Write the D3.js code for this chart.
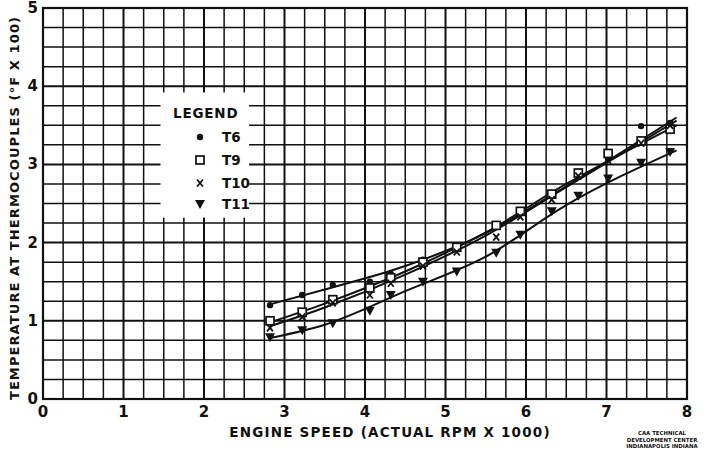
<!DOCTYPE html>
<html><head><meta charset="utf-8">
<script src="https://cdn.jsdelivr.net/npm/d3@7/dist/d3.min.js"></script>
<style>
html,body{margin:0;padding:0;background:#fff;}
svg text{font-family:"DejaVu Sans",sans-serif;font-weight:bold;fill:#111;}
</style></head>
<body>
<svg id="c" width="704" height="456"></svg>
<script>
// ---- data ----
const speeds = [2.82, 3.22, 3.60, 4.06, 4.32, 4.72, 5.14, 5.63, 5.93, 6.32, 6.65, 7.02, 7.43, 7.79];
const t6  = [1.20, 1.33, 1.46, 1.50, 1.60, 1.78, 1.95, 2.22, 2.40, 2.60, 2.88, 3.07, 3.49, 3.53];
const t9  = [1.00, 1.11, 1.27, 1.42, 1.55, 1.75, 1.94, 2.22, 2.40, 2.62, 2.89, 3.14, 3.30, 3.45];
const t10 = [0.91, 1.05, 1.23, 1.33, 1.48, 1.70, 1.88, 2.07, 2.33, 2.55, 2.85, 3.05, 3.27, 3.50];
const t11 = [0.79, 0.88, 0.97, 1.13, 1.33, 1.50, 1.63, 1.87, 2.10, 2.40, 2.60, 2.82, 3.02, 3.16];
// hand-faired curves (knots)
const fitX   = [2.82, 3.5, 4.5, 5.5, 6.5, 7.87];
const t6Fit  = [1.21, 1.40, 1.70, 2.12, 2.72, 3.60];
const t9Fit  = [0.98, 1.22, 1.63, 2.13, 2.75, 3.50];
const t10Fit = [0.93, 1.17, 1.59, 2.09, 2.71, 3.56];
const t11Fit = [0.78, 0.95, 1.38, 1.82, 2.48, 3.18];
const xTicks = [0,1,2,3,4,5,6,7,8];
const yTicks = [0,1,2,3,4,5];
const legendNames = ["T6","T9","T10","T11"];
const xTitle = "ENGINE SPEED (ACTUAL RPM X 1000)";
const yTitle = "TEMPERATURE AT THERMOCOUPLES (°F X 100)";
const credit = ["CAA TECHNICAL","DEVELOPMENT CENTER","INDIANAPOLIS INDIANA"];

const svg = d3.select("#c");
const x = d3.scaleLinear().domain([0,8]).range([43,687]);
const y = d3.scaleLinear().domain([0,5]).range([399,8]);

// grid
const g = svg.append("g");
const gx = d3.range(0, 8.001, 0.25), gy = d3.range(0, 5.001, 0.25);
g.selectAll(".vx").data(gx).join("line")
  .attr("x1",d=>x(d)).attr("x2",d=>x(d)).attr("y1",y(0)).attr("y2",y(5))
  .attr("stroke","#111").attr("stroke-width",d=>Math.abs(d-Math.round(d))<1e-6?2:1.5);
g.selectAll(".hy").data(gy).join("line")
  .attr("y1",d=>y(d)).attr("y2",d=>y(d)).attr("x1",x(0)).attr("x2",x(8))
  .attr("stroke","#111").attr("stroke-width",d=>Math.abs(d-Math.round(d))<1e-6?2:1.5);
// frame
svg.append("rect").attr("x",x(0)).attr("y",y(5)).attr("width",x(8)-x(0)).attr("height",y(0)-y(5))
  .attr("fill","none").attr("stroke","#111").attr("stroke-width",2.2);

// legend blank area
svg.append("rect").attr("x",x(1.46)).attr("y",y(3.92)).attr("width",x(2.56)-x(1.46)).attr("height",y(2.32)-y(3.92))
  .attr("fill","#fff");

// tick labels
svg.append("g").selectAll("text").data(xTicks).join("text")
  .attr("x",d=>x(d)).attr("y",417).attr("text-anchor","middle").attr("font-size",15).text(d=>d);
svg.append("g").selectAll("text").data(yTicks).join("text")
  .attr("x",38).attr("y",d=>y(d)+5).attr("text-anchor","end").attr("font-size",15).text(d=>d);

// titles
svg.append("text").attr("x",390).attr("y",437).attr("text-anchor","middle").attr("font-size",13.5)
  .attr("letter-spacing",1.2).text(xTitle);
svg.append("text").attr("transform","translate(19,208) rotate(-90)").attr("text-anchor","middle")
  .attr("font-size",13).attr("letter-spacing",1.1).text(yTitle);
svg.append("g").selectAll("text").data(credit).join("text")
  .attr("x",662).attr("y",(d,i)=>435+i*6.5).attr("text-anchor","middle").attr("font-size",5.4).text(d=>d);

// fitted curves
const line = d3.line().x(d=>x(d[0])).y(d=>y(d[1])).curve(d3.curveMonotoneX);
[t6Fit,t9Fit,t10Fit,t11Fit].forEach(f=>{
  svg.append("path").attr("d",line(fitX.map((v,i)=>[v,f[i]])))
    .attr("fill","none").attr("stroke","#111").attr("stroke-width",2);
});

// markers
function dot(sel){ sel.append("circle").attr("r",3.2).attr("fill","#111"); }
function sq(sel){ sel.append("rect").attr("x",-4).attr("y",-4).attr("width",8).attr("height",8)
  .attr("fill","#fff").attr("stroke","#111").attr("stroke-width",1.7); }
function cross(sel){ sel.append("path").attr("d","M-3,-3.5L3,3.5M3,-3.5L-3,3.5").attr("stroke","#111").attr("stroke-width",1.8); }
function tri(sel){ sel.append("path").attr("d","M-5,-4L5,-4L0,5Z").attr("fill","#111"); }
const markers = [dot, sq, cross, tri];
[t6,t9,t10,t11].forEach((s,k)=>{
  svg.append("g").selectAll("g").data(speeds.map((v,i)=>[v,s[i]])).join("g")
    .attr("transform",d=>`translate(${x(d[0])},${y(d[1])})`).each(function(){ markers[k](d3.select(this)); });
});

// legend
svg.append("text").attr("x",173).attr("y",118).attr("font-size",13.5).attr("letter-spacing",0.8).text("LEGEND");
const ly = [137,160,183,204];
legendNames.forEach((n,i)=>{
  const gg = svg.append("g").attr("transform",`translate(200,${ly[i]})`);
  markers[i](gg);
  svg.append("text").attr("x",222).attr("y",ly[i]+5).attr("font-size",13.5).text(n);
});
</script>
</body></html>
